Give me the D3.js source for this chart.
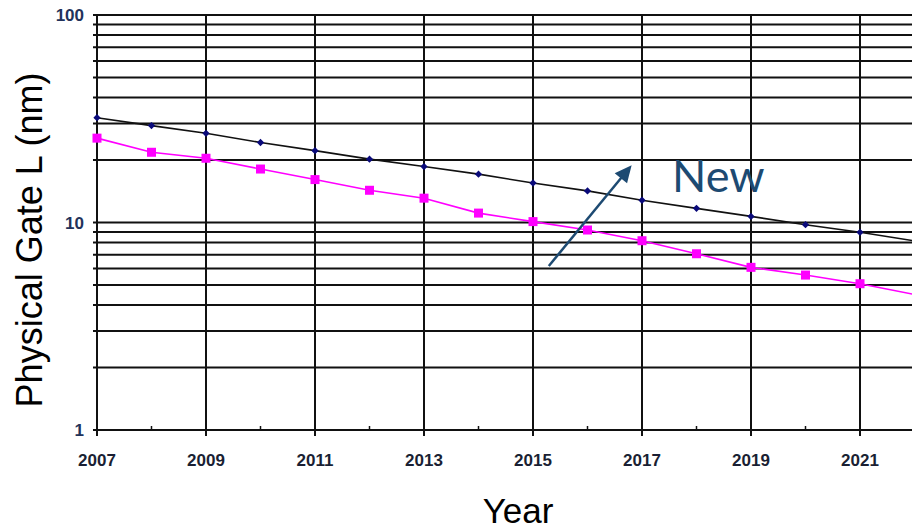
<!DOCTYPE html>
<html>
<head>
<meta charset="utf-8">
<script src="https://cdn.jsdelivr.net/npm/d3@7"></script>
<style>
  html, body { margin: 0; padding: 0; background: #fff; }
  svg { display: block; }
</style>
</head>
<body>
<svg id="chart" width="912" height="529"></svg>
<script>
// Physical gate length roadmap, 2007–2022 (log scale, nm)
const years = [2007, 2008, 2009, 2010, 2011, 2012, 2013, 2014, 2015, 2016, 2017, 2018, 2019, 2020, 2021, 2022];
const gateUpper = [32.0, 29.3, 26.9, 24.3, 22.2, 20.2, 18.6, 17.1, 15.5, 14.2, 12.8, 11.7, 10.7, 9.76, 8.97, 8.15];
const gateLower = [25.5, 21.8, 20.4, 18.1, 16.1, 14.3, 13.1, 11.1, 10.1, 9.2, 8.17, 7.07, 6.08, 5.58, 5.07, 4.5];
const xTickYears = [2007, 2009, 2011, 2013, 2015, 2017, 2019, 2021];
const xMinorYears = [2008, 2010, 2012, 2014, 2016, 2018, 2020];
const yTickValues = [1, 10, 100];
const yGridValues = [1, 2, 3, 4, 5, 6, 7, 8, 9, 10, 20, 30, 40, 50, 60, 70, 80, 90, 100];
// "New" callout: arrow from [year, nm] to [year, nm], label anchor
const arrowFrom = [2015.29, 6.17];
const arrowTo = [2016.81, 18.9];
const calloutLabel = { text: "New", year: 2017.55, value: 14.1 };

const svg = d3.select("#chart");
const x = d3.scaleLinear().domain([2007, 2022]).range([97, 914.5]);
const y = d3.scaleLog().domain([1, 100]).range([430, 15]);

const gridColor = "#111";

// horizontal grid
svg.append("g").selectAll("line").data(yGridValues).join("line")
  .attr("x1", 93).attr("x2", 912)
  .attr("y1", d => y(d)).attr("y2", d => y(d))
  .attr("stroke", gridColor).attr("stroke-width", 2);

// vertical grid on labelled years
svg.append("g").selectAll("line").data(xTickYears).join("line")
  .attr("x1", d => x(d)).attr("x2", d => x(d))
  .attr("y1", y(100)).attr("y2", 436)
  .attr("stroke", gridColor).attr("stroke-width", 2);

// minor ticks on even years
svg.append("g").selectAll("line").data(xMinorYears).join("line")
  .attr("x1", d => x(d)).attr("x2", d => x(d))
  .attr("y1", 426).attr("y2", 430)
  .attr("stroke", gridColor).attr("stroke-width", 1.5);

// x tick labels
svg.append("g").selectAll("text").data(xTickYears).join("text")
  .attr("x", d => x(d)).attr("y", 466)
  .attr("text-anchor", "middle")
  .attr("font-family", "Liberation Sans, Arial, sans-serif")
  .attr("font-weight", "bold").attr("font-size", 17)
  .attr("fill", "#1a1f33")
  .text(d => d);

// y tick labels
svg.append("g").selectAll("text").data(yTickValues).join("text")
  .attr("x", 84).attr("y", d => y(d) + 6)
  .attr("text-anchor", "end")
  .attr("font-family", "Liberation Sans, Arial, sans-serif")
  .attr("font-weight", "bold").attr("font-size", 17)
  .attr("fill", "#22325a")
  .text(d => d);

// axis titles
svg.append("text")
  .attr("transform", `translate(42,240) rotate(-90)`)
  .attr("text-anchor", "middle")
  .attr("font-family", "Liberation Sans, Arial, sans-serif")
  .attr("font-size", 36).attr("fill", "#000")
  .text("Physical Gate L (nm)");

svg.append("text")
  .attr("x", 518).attr("y", 523)
  .attr("text-anchor", "middle")
  .attr("font-family", "Liberation Sans, Arial, sans-serif")
  .attr("font-size", 35).attr("fill", "#000")
  .text("Year");

// series lines
const line = vals => d3.line().x((d, i) => x(years[i])).y(d => y(d))(vals);

svg.append("path").attr("d", line(gateLower))
  .attr("fill", "none").attr("stroke", "#ff00ff").attr("stroke-width", 1.6);
svg.append("path").attr("d", line(gateUpper))
  .attr("fill", "none").attr("stroke", "#111").attr("stroke-width", 1.6);

const visible = years.map((yr, i) => i).filter(i => years[i] <= 2021);

// square markers
svg.append("g").selectAll("rect").data(visible).join("rect")
  .attr("x", i => x(years[i]) - 4.5).attr("y", i => y(gateLower[i]) - 4.5)
  .attr("width", 9).attr("height", 9)
  .attr("fill", "#ff00ff");

// diamond markers
const diamond = d3.symbol().type(d3.symbolDiamond2).size(34);
svg.append("g").selectAll("path").data(visible).join("path")
  .attr("transform", i => `translate(${x(years[i])},${y(gateUpper[i])})`)
  .attr("d", diamond)
  .attr("fill", "#0a0a7a");

// callout arrow
const arrowColor = "#1d4a72";
const ax0 = x(arrowFrom[0]), ay0 = y(arrowFrom[1]);
const ax1 = x(arrowTo[0]), ay1 = y(arrowTo[1]);
const len = Math.hypot(ax1 - ax0, ay1 - ay0);
const ux = (ax1 - ax0) / len, uy = (ay1 - ay0) / len;
const headLen = 17, headHalf = 8;
const bx = ax1 - ux * headLen, by = ay1 - uy * headLen;
svg.append("line")
  .attr("x1", ax0).attr("y1", ay0).attr("x2", bx + ux * 2).attr("y2", by + uy * 2)
  .attr("stroke", arrowColor).attr("stroke-width", 2.5);
svg.append("path")
  .attr("d", `M${ax1},${ay1} L${bx - uy * headHalf},${by + ux * headHalf} L${bx + uy * headHalf},${by - ux * headHalf} Z`)
  .attr("fill", arrowColor);

svg.append("text")
  .attr("x", x(calloutLabel.year)).attr("y", y(calloutLabel.value))
  .attr("font-family", "Lato, 'Open Sans', sans-serif")
  .attr("font-size", 45).attr("fill", arrowColor)
  .text(calloutLabel.text);
</script>
</body>
</html>
